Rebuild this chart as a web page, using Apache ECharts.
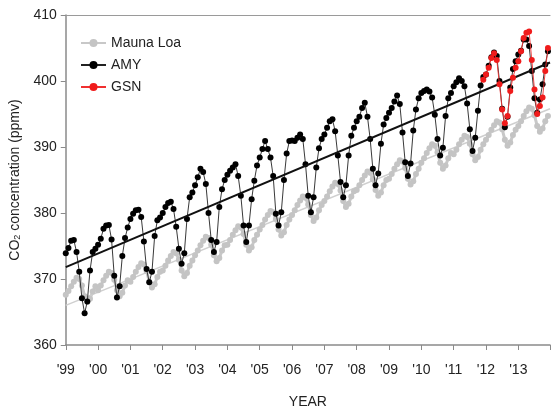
<!DOCTYPE html>
<html>
<head>
<meta charset="utf-8">
<script src="https://cdn.jsdelivr.net/npm/echarts@6/dist/echarts.min.js"></script>
<style>
  html, body { margin: 0; padding: 0; background: #fff; }
  #chart { width: 553px; height: 414px; }
</style>
</head>
<body>
<div id="chart"></div>
<script>
// monthly values, first point = January of startYear
const startYear = 1999;
const endYear = 2013.98;
const yearLabels = ["'99", "'00", "'01", "'02", "'03", "'04", "'05", "'06", "'07", "'08", "'09", "'10", "'11", "'12", "'13"];

const maunaLoa = [
  367.6, 368.2, 368.9, 369.6, 370.2, 370.0, 369.0, 367.4, 366.5, 367.0, 368.1, 368.9,
  368.3, 369.0, 369.8, 370.5, 371.1, 370.9, 369.9, 368.3, 367.4, 367.9, 369.0, 369.8,
  369.6, 370.3, 371.1, 371.8, 372.4, 372.2, 371.2, 369.6, 368.7, 369.2, 370.3, 371.1,
  371.3, 372.0, 372.8, 373.5, 374.1, 373.9, 372.9, 371.3, 370.4, 370.9, 372.0, 372.8,
  373.6, 374.3, 375.1, 375.8, 376.4, 376.2, 375.2, 373.6, 372.7, 373.2, 374.3, 375.1,
  375.2, 375.9, 376.7, 377.4, 378.0, 377.8, 376.8, 375.2, 374.3, 374.8, 375.9, 376.7,
  377.5, 378.2, 379.0, 379.7, 380.3, 380.1, 379.1, 377.5, 376.6, 377.1, 378.2, 379.0,
  379.7, 380.4, 381.2, 381.9, 382.5, 382.3, 381.3, 379.7, 378.8, 379.3, 380.4, 381.2,
  381.8, 382.5, 383.3, 384.0, 384.6, 384.4, 383.4, 381.8, 380.9, 381.4, 382.5, 383.3,
  383.5, 384.2, 385.0, 385.7, 386.3, 386.1, 385.1, 383.5, 382.6, 383.1, 384.2, 385.0,
  385.2, 385.9, 386.7, 387.4, 388.0, 387.8, 386.8, 385.2, 384.3, 384.8, 385.9, 386.7,
  387.6, 388.3, 389.1, 389.8, 390.4, 390.2, 389.2, 387.6, 386.7, 387.2, 388.3, 389.1,
  388.9, 389.6, 390.4, 391.1, 391.7, 391.5, 390.5, 388.9, 388.0, 388.5, 389.6, 390.4,
  391.1, 391.8, 392.6, 393.3, 393.9, 393.7, 392.7, 391.1, 390.2, 390.7, 391.8, 392.6,
  393.2, 393.9, 394.7, 395.4, 396.0, 395.8, 394.8, 393.2, 392.3, 392.8, 393.9, 394.7
];

const amy = [
  373.9, 374.7, 375.8, 375.9, 374.1, 371.1, 367.1, 364.8, 366.6, 371.3, 374.1, 374.6,
  375.2, 376.1, 377.6, 378.1, 378.2, 376.0, 370.5, 367.2, 368.9, 373.5, 376.2, 377.8,
  379.1, 379.9, 380.4, 380.5, 379.4, 375.7, 371.5, 369.5, 371.1, 376.5, 378.9, 379.3,
  380.0, 380.9, 381.5, 381.7, 380.6, 377.9, 374.6, 372.3, 373.9, 379.1, 382.4, 383.1,
  384.2, 385.4, 386.7, 386.2, 384.4, 380.0, 375.9, 374.1, 375.6, 380.9, 383.6, 385.0,
  385.8, 386.4, 386.9, 387.4, 385.6, 382.6, 378.1, 375.6, 378.1, 382.1, 384.9, 387.2,
  388.4, 389.7, 390.9, 389.7, 388.4, 385.6, 379.9, 378.1, 380.1, 385.0, 389.0, 390.9,
  391.0, 390.9, 391.4, 391.9, 391.2, 387.4, 382.6, 380.1, 382.4, 386.9, 389.8, 391.2,
  391.9, 392.9, 393.9, 394.2, 392.4, 388.7, 384.7, 382.4, 384.2, 388.7, 391.7, 392.9,
  393.9, 394.6, 395.9, 396.7, 394.6, 391.2, 386.7, 384.2, 386.0, 390.5, 393.4, 394.4,
  395.2, 395.9, 396.9, 397.8, 396.5, 392.2, 387.7, 385.6, 387.5, 392.5, 395.7, 397.4,
  398.2, 398.5, 398.7, 398.4, 397.5, 394.9, 391.2, 388.7, 389.9, 394.7, 397.4, 398.2,
  399.2, 399.8, 400.4, 400.0, 399.2, 396.6, 392.7, 389.4, 391.4, 395.5, 399.3, 400.6,
  401.0, 402.3, 403.6, 404.3, 403.8, 400.0, 395.8, 393.0, 394.6, 399.0, 401.8, 403.0,
  404.0, 404.6, 406.3, 406.3, 405.3, 401.5, 397.4, 395.2, 397.2, 399.5, 402.5, 404.5
];

// GSN starts December 2011
const gsnStart = 2011 + 11 / 12;
const gsn = [
  400.2,
  401.0, 402.0, 403.5, 404.2, 403.2, 399.5, 395.7, 393.6, 394.7, 398.5, 400.5, 402.0,
  403.0, 404.5, 406.5, 407.3, 407.5, 403.2, 398.7, 395.0, 396.2, 397.5, 401.5, 405.0
];

const amyTrend = [[1999, 371.8], [2013.98, 402.8]];
const maunaLoaTrend = [[1999, 366.0], [2013.98, 395.8]];

function monthly(values, from) {
  return values.map(function (v, i) { return [from + i / 12, v]; });
}

const font = '"Liberation Sans", Arial, sans-serif';
const myChart = echarts.init(document.getElementById('chart'));

const option = {
  animation: false,
  textStyle: { fontFamily: font },
  grid: { left: 65, right: -2, top: 15, bottom: 67 },
  legend: {
    orient: 'vertical',
    left: 75,
    top: 31,
    itemWidth: 25,
    itemHeight: 10,
    itemGap: 8,
    data: ['Mauna Loa', 'AMY', 'GSN'],
    textStyle: { fontFamily: font, fontSize: 14, color: '#222' }
  },
  xAxis: [
    {
      type: 'value',
      min: startYear,
      max: endYear,
      interval: 1,
      name: 'YEAR',
      nameLocation: 'middle',
      nameGap: 50,
      nameTextStyle: { fontFamily: font, fontSize: 14, color: '#222' },
      axisLine: { lineStyle: { color: '#8a8a8a', width: 1.5 } },
      axisTick: { show: true, length: 5, lineStyle: { color: '#8a8a8a' } },
      splitLine: { show: false },
      axisLabel: {
        margin: 18,
        fontSize: 14,
        color: '#222',
        fontFamily: font,
        formatter: function (v) {
          const idx = Math.round(v - startYear);
          return Math.abs(v - Math.round(v)) < 1e-6 ? (yearLabels[idx] || '') : '';
        }
      }
    },
    {
      // plain frame line along the top of the plot
      type: 'value',
      position: 'top',
      min: startYear,
      max: endYear,
      axisLine: { show: true, lineStyle: { color: '#9a9a9a', width: 1.2 } },
      axisTick: { show: false },
      axisLabel: { show: false },
      splitLine: { show: false }
    }
  ],
  yAxis: {
    type: 'value',
    min: 360,
    max: 410,
    interval: 10,
    name: 'CO{sub|2} concentration (ppmv)',
    nameLocation: 'middle',
    nameRotate: 90,
    nameGap: 36,
    nameTextStyle: {
      fontFamily: font, fontSize: 14, color: '#222',
      rich: { sub: { fontFamily: font, fontSize: 9, color: '#222', verticalAlign: 'bottom', padding: [6, 0, 0, 0] } }
    },
    axisLine: { show: true, lineStyle: { color: '#8a8a8a', width: 1.5 } },
    axisTick: { show: true, length: 5, lineStyle: { color: '#8a8a8a' } },
    splitLine: { show: false },
    axisLabel: { margin: 9, fontSize: 14, color: '#222', fontFamily: font }
  },
  series: [
    {
      name: 'Mauna Loa',
      type: 'line',
      data: monthly(maunaLoa, startYear),
      symbol: 'circle',
      symbolSize: 6,
      itemStyle: { color: '#c4c4c4' },
      lineStyle: { color: '#c8c8c8', width: 3 },
      z: 2
    },
    {
      name: 'Mauna Loa trend',
      type: 'line',
      data: maunaLoaTrend,
      symbol: 'none',
      lineStyle: { color: '#cfcfcf', width: 1.5 },
      z: 2
    },
    {
      name: 'AMY',
      type: 'line',
      data: monthly(amy, startYear),
      symbol: 'circle',
      symbolSize: 6,
      itemStyle: { color: '#000' },
      lineStyle: { color: '#222', width: 0.9 },
      z: 3
    },
    {
      name: 'AMY trend',
      type: 'line',
      data: amyTrend,
      symbol: 'none',
      lineStyle: { color: '#111', width: 2 },
      z: 4
    },
    {
      name: 'GSN',
      type: 'line',
      data: monthly(gsn, gsnStart),
      symbol: 'circle',
      symbolSize: 6,
      itemStyle: { color: '#f01b1b' },
      lineStyle: { color: '#f03030', width: 0.9 },
      z: 5
    }
  ]
};

myChart.setOption(option);
</script>
</body>
</html>
